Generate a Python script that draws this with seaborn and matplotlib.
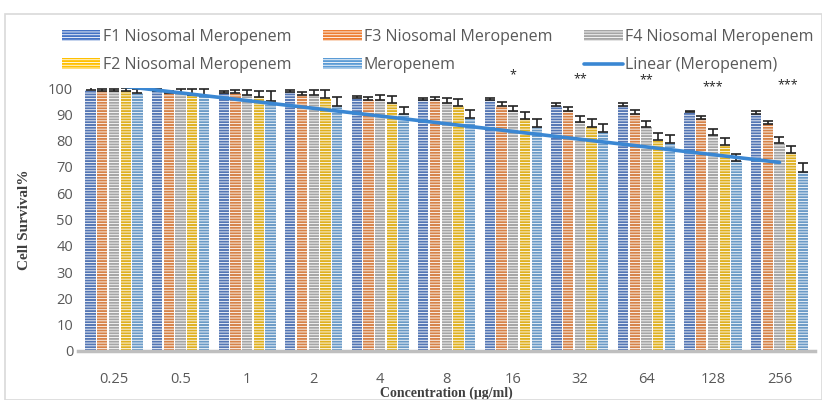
import numpy as np
import pandas as pd
import matplotlib
matplotlib.use("Agg")
import matplotlib.pyplot as plt
from matplotlib.patches import Patch, Rectangle
from matplotlib.lines import Line2D
import seaborn as sns

# Data
concentrations = ["0.25", "0.5", "1", "2", "4", "8", "16", "32", "64", "128", "256"]
series_order = ["F1 Niosomal Meropenem", "F3 Niosomal Meropenem", "F4 Niosomal Meropenem",
                "F2 Niosomal Meropenem", "Meropenem"]

f1 = [99.2, 99.0, 98.0, 98.3, 96.3, 95.3, 95.4, 93.3, 93.3, 91.0, 90.1]
f3 = [99.0, 98.2, 98.2, 97.3, 95.3, 95.3, 93.3, 91.4, 90.3, 88.2, 86.3]
f4 = [99.0, 98.0, 97.2, 97.3, 95.3, 94.3, 91.3, 87.2, 85.3, 82.3, 79.2]
f2 = [99.0, 97.5, 96.4, 96.3, 94.3, 93.3, 88.2, 85.3, 80.2, 78.2, 75.2]
mero = [98.2, 97.0, 95.2, 93.3, 90.2, 88.5, 85.3, 83.4, 79.0, 72.2, 68.1]

f1_err = [1.0, 0.8, 0.8, 1.0, 0.8, 0.8, 0.8, 1.0, 1.0, 0.3, 1.2]
f3_err = [0.6, 0.8, 1.2, 1.2, 1.2, 1.2, 1.2, 1.2, 1.2, 1.2, 1.3]
f4_err = [0.6, 1.5, 2.0, 2.0, 2.0, 2.0, 2.0, 2.2, 2.0, 2.2, 2.3]
f2_err = [1.0, 2.0, 2.5, 2.8, 2.5, 2.5, 2.8, 2.8, 2.8, 2.7, 2.8]
mero_err = [1.5, 2.8, 3.5, 3.3, 2.5, 3.0, 3.0, 3.0, 3.0, 2.8, 3.3]

sig_labels = ["", "", "", "", "", "", "*", "**", "**", "***", "***"]
sig_y = [0, 0, 0, 0, 0, 0, 105.2, 103.6, 103.2, 100.6, 101.4]

colors = ["#4472C4", "#ED7D31", "#A5A5A5", "#FFC000", "#5B9BD5"]

values = [f1, f3, f4, f2, mero]
errors = [f1_err, f3_err, f4_err, f2_err, mero_err]
df = pd.DataFrame({
    "Concentration": concentrations * len(series_order),
    "Series": np.repeat(series_order, len(concentrations)),
    "Survival": np.concatenate(values),
})

sns.set_theme(style="white")
plt.rcParams["font.family"] = ["Open Sans", "DejaVu Sans"]
plt.rcParams["hatch.linewidth"] = 0.6

fig = plt.figure(figsize=(8.22, 4.0), dpi=100)
ax = fig.add_axes([0.095, 0.1225, 0.897, 0.6575])

sns.barplot(data=df, x="Concentration", y="Survival", hue="Series",
            order=concentrations, hue_order=series_order, palette=colors,
            width=0.88, gap=0.12, errorbar=None, edgecolor="white",
            linewidth=0, hatch="------", legend=False, ax=ax)

# upper error bars drawn on the bar centres from seaborn
for container, err in zip(ax.containers, errors):
    xs = [p.get_x() + p.get_width() / 2 for p in container]
    hs = [p.get_height() for p in container]
    ax.errorbar(xs, hs, yerr=[np.zeros(len(err)), err], fmt="none",
                ecolor="#222222", elinewidth=1.2, capsize=3.5, capthick=1.2)

# linear trend of the Meropenem series
idx = np.arange(len(concentrations))
slope, intercept = np.polyfit(idx, mero, 1)
ax.plot(idx, slope * idx + intercept, color="#3A87D3", lw=2.6, zorder=5)

for i, (lab, yy) in enumerate(zip(sig_labels, sig_y)):
    if lab:
        off = 0.13 if i == len(concentrations) - 1 else 0.0
        ax.text(i + off, yy, lab, ha="center", va="center", fontsize=9,
                color="#222222", clip_on=False)

ax.set_ylim(0, 100)
ax.set_xlim(-0.54, len(concentrations) - 0.46)
ax.set_yticks(range(0, 101, 10))
ax.tick_params(axis="both", length=0, labelsize=10.5, labelcolor="#595959")
ax.tick_params(axis="x", pad=15)
for s in ["top", "right", "left"]:
    ax.spines[s].set_visible(False)
ax.spines["bottom"].set_color("#BFBFBF")
ax.spines["bottom"].set_linewidth(2.5)

ax.set_xlabel("Concentration (\u03bcg/ml)", family="Liberation Serif", fontweight="bold",
              fontsize=10, color="#404040", labelpad=0)
ax.set_ylabel("Cell Survival%", family="Liberation Serif", fontweight="bold",
              fontsize=11, color="#404040", labelpad=12)

handles = [Patch(facecolor=c, edgecolor="white", linewidth=0, hatch="------") for c in colors]
trend_handle = Line2D([0], [0], color="#3A87D3", lw=2.6)
# legend is filled column by column
order_handles = [handles[0], handles[3], handles[1], handles[4], handles[2], trend_handle]
order_labels = [series_order[0], series_order[3], series_order[1], series_order[4],
                series_order[2], "Linear (Meropenem)"]
fig.legend(order_handles, order_labels, ncol=3, loc="upper left",
           bbox_to_anchor=(0.058, 0.963), frameon=False, fontsize=11.5,
           handlelength=2.4, handleheight=0.6, handletextpad=0.15,
           columnspacing=2.0, labelspacing=0.75, labelcolor="#595959")

fig.patches.append(Rectangle((0.006, 0.0), 0.994, 0.965, transform=fig.transFigure,
                             fill=False, edgecolor="#D9D9D9", lw=1.2))

fig.savefig("out.png", dpi=100)
